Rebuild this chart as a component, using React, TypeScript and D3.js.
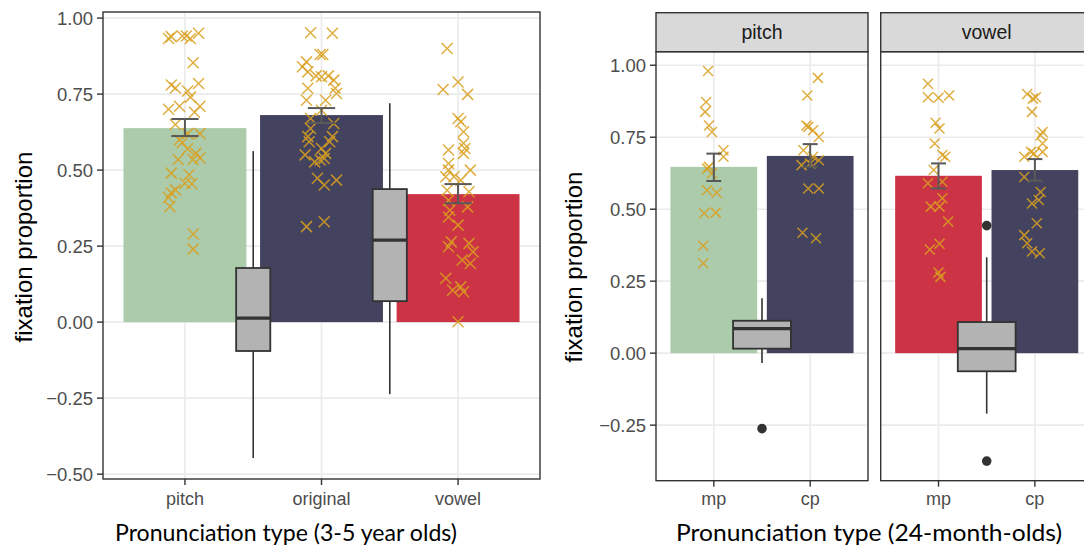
import React from "react";
import * as d3 from "d3";

// ---- left chart: 3-5 year olds ----
const leftCats = ["pitch", "original", "vowel"];
const leftMeans = [0.638, 0.681, 0.421];
const leftLower = [0.612, 0.655, 0.391];
const leftUpper = [0.668, 0.704, 0.454];
const leftTicks = [-0.5, -0.25, 0, 0.25, 0.5, 0.75, 1];

const leftPitchPts = [0.933, 0.939, 0.941, 0.941, 0.933, 0.95, 0.853, 0.78, 0.77, 0.785, 0.76, 0.74, 0.7, 0.71, 0.71, 0.69, 0.65, 0.62, 0.62, 0.6, 0.59, 0.57, 0.555, 0.54, 0.535, 0.535, 0.49, 0.485, 0.455, 0.457, 0.435, 0.425, 0.41, 0.38, 0.29, 0.24];
const leftPitchJit = [-0.12, -0.1, -0.02, 0.01, 0.04, 0.1, 0.06, -0.1, -0.07, 0.1, 0.02, 0.04, -0.12, -0.04, 0.11, 0.07, -0.07, 0.11, 0.02, -0.04, -0.02, 0.02, 0.08, 0.11, -0.05, 0.06, -0.1, 0.03, 0.05, 0.0, -0.07, -0.1, -0.12, -0.11, 0.06, 0.06];
const leftOrigPts = [0.952, 0.95, 0.88, 0.88, 0.856, 0.84, 0.823, 0.81, 0.807, 0.81, 0.796, 0.769, 0.752, 0.769, 0.73, 0.73, 0.697, 0.67, 0.653, 0.637, 0.61, 0.593, 0.61, 0.593, 0.571, 0.555, 0.55, 0.527, 0.533, 0.538, 0.473, 0.451, 0.467, 0.314, 0.33];
const leftOrigJit = [-0.08, 0.08, -0.01, 0.01, -0.11, -0.14, -0.1, -0.04, 0.0, 0.05, 0.09, 0.1, 0.11, -0.1, -0.11, 0.03, 0.0, -0.08, 0.09, -0.08, -0.1, -0.09, 0.08, 0.06, 0.0, 0.03, -0.12, -0.05, -0.01, 0.02, -0.03, 0.02, 0.11, -0.11, 0.02];
const leftVowelPts = [0.9, 0.79, 0.765, 0.749, 0.67, 0.659, 0.626, 0.588, 0.571, 0.555, 0.566, 0.5, 0.522, 0.5, 0.478, 0.478, 0.467, 0.429, 0.434, 0.401, 0.368, 0.379, 0.346, 0.319, 0.264, 0.259, 0.248, 0.231, 0.204, 0.193, 0.144, 0.105, 0.116, 0.1, 0.001];
const leftVowelJit = [-0.08, 0.0, -0.11, 0.07, 0.0, 0.02, 0.04, 0.04, 0.05, 0.04, -0.07, 0.09, -0.07, -0.07, -0.09, -0.03, 0.02, 0.08, -0.08, -0.07, -0.06, 0.07, -0.07, 0.0, -0.05, 0.08, -0.07, 0.11, 0.03, 0.09, -0.09, -0.04, 0.02, 0.04, 0.0];

// boxplots sit between neighbouring categories
const leftBoxLow = [-0.447, -0.237];
const leftBoxQ1 = [-0.095, 0.069];
const leftBoxMed = [0.013, 0.27];
const leftBoxQ3 = [0.178, 0.4375];
const leftBoxHigh = [0.5625, 0.72];

// ---- right chart: 24-month-olds, faceted ----
const facets = ["pitch", "vowel"];
const rightCats = ["mp", "cp"];
const pitchMeans = [0.647, 0.685];
const pitchLower = [0.598, 0.647];
const pitchUpper = [0.693, 0.726];
const vowelMeans = [0.616, 0.636];
const vowelLower = [0.572, 0.599];
const vowelUpper = [0.659, 0.674];
const rightTicks = [-0.25, 0, 0.25, 0.5, 0.75, 1];

const pitchMpPts = [0.98, 0.872, 0.838, 0.791, 0.768, 0.705, 0.682, 0.647, 0.641, 0.624, 0.566, 0.557, 0.486, 0.488, 0.373, 0.312];
const pitchMpJit = [-0.06, -0.08, -0.09, -0.05, -0.02, 0.1, 0.1, -0.05, -0.07, -0.02, -0.07, 0.03, -0.1, 0.02, -0.11, -0.11];
const pitchCpPts = [0.956, 0.895, 0.791, 0.786, 0.774, 0.751, 0.705, 0.682, 0.67, 0.653, 0.659, 0.572, 0.572, 0.418, 0.399];
const pitchCpJit = [0.08, -0.03, -0.04, -0.02, 0.03, 0.09, -0.07, 0.03, 0.09, -0.09, 0.0, -0.02, 0.09, -0.08, 0.06];
const vowelMpPts = [0.936, 0.889, 0.887, 0.895, 0.8, 0.78, 0.728, 0.688, 0.682, 0.636, 0.59, 0.595, 0.538, 0.509, 0.509, 0.457, 0.38, 0.36, 0.28, 0.265];
const vowelMpJit = [-0.11, -0.11, 0.0, 0.11, -0.03, 0.01, -0.04, 0.04, 0.07, -0.05, -0.11, 0.04, 0.04, -0.08, 0.01, 0.1, 0.01, -0.09, 0.0, 0.02];
const vowelCpPts = [0.9, 0.889, 0.884, 0.838, 0.768, 0.757, 0.728, 0.699, 0.682, 0.699, 0.693, 0.612, 0.56, 0.532, 0.52, 0.451, 0.41, 0.382, 0.353, 0.347];
const vowelCpJit = [-0.08, 0.01, -0.02, -0.03, 0.08, 0.06, 0.08, 0.08, -0.11, -0.04, -0.01, -0.11, 0.06, 0.04, -0.03, 0.02, -0.11, -0.08, -0.03, 0.05];

const pitchBox = { low: -0.034, q1: 0.0156, med: 0.085, q3: 0.1126, high: 0.191, out: [-0.262] };
const vowelBox = { low: -0.21, q1: -0.063, med: 0.0156, q3: 0.108, high: 0.333, out: [0.443, -0.375] };

const GREEN = "#abcbaa", NAVY = "#44435f", RED = "#cc3344";
const PT = "#d9a020", GRID = "#ebebeb", DARK = "#333333";
const SANS = "'Liberation Sans', Arial, sans-serif";
const TITLE = "Lato, 'Open Sans', sans-serif";
const fmt = d3.format(".2f");

function xMark(cx: number, cy: number, s: number) {
  return `M${cx - s},${cy - s}L${cx + s},${cy + s}M${cx - s},${cy + s}L${cx + s},${cy - s}`;
}

type Box = { at: number; low: number; q1: number; med: number; q3: number; high: number; out: number[] };

function Panel(props: {
  x0: number; x1: number; y0: number; y1: number;
  domain: [number, number]; cats: string[]; means: number[]; lower: number[]; upper: number[];
  colors: string[]; pts: number[][]; jit: number[][]; boxes: Box[];
  boxW: number; errW: number; mark: number; yTicks: number[]; showY: boolean; strip?: string;
}) {
  const { x0, x1, y0, y1, cats } = props;
  const x = d3.scalePoint<string>().domain(cats).range([x0, x1]).padding(0.6);
  const step = x.step();
  const y = d3.scaleLinear().domain(props.domain).range([y1, y0]);
  const barW = step * 0.9;
  return (
    <g>
      <rect x={x0} y={y0} width={x1 - x0} height={y1 - y0} fill="#fff" />
      {props.yTicks.map((t) => (
        <line key={"gy" + t} x1={x0} x2={x1} y1={y(t)} y2={y(t)} stroke={GRID} strokeWidth={1.6} />
      ))}
      {cats.map((c) => (
        <line key={"gx" + c} x1={x(c)!} x2={x(c)!} y1={y0} y2={y1} stroke={GRID} strokeWidth={1.6} />
      ))}
      {cats.map((c, i) => (
        <rect key={"b" + c} x={x(c)! - barW / 2} y={y(props.means[i])} width={barW}
          height={y(0) - y(props.means[i])} fill={props.colors[i]} />
      ))}
      {props.boxes.map((b, i) => {
        const cx = x0 + (0.6 + b.at) * step;
        const bw = props.boxW * step;
        return (
          <g key={"box" + i}>
            <line x1={cx} x2={cx} y1={y(b.high)} y2={y(b.q3)} stroke={DARK} strokeWidth={1.6} />
            <line x1={cx} x2={cx} y1={y(b.q1)} y2={y(b.low)} stroke={DARK} strokeWidth={1.6} />
            <rect x={cx - bw / 2} y={y(b.q3)} width={bw} height={y(b.q1) - y(b.q3)}
              fill="#b3b3b3" stroke={DARK} strokeWidth={1.8} />
            <line x1={cx - bw / 2} x2={cx + bw / 2} y1={y(b.med)} y2={y(b.med)} stroke={DARK} strokeWidth={3.2} />
            {b.out.map((o, k) => (
              <circle key={k} cx={cx} cy={y(o)} r={4.8} fill={DARK} />
            ))}
          </g>
        );
      })}
      {cats.map((c, i) => (
        <g key={"p" + c}>
          {props.pts[i].map((v, k) => (
            <path key={k} d={xMark(x(c)! + props.jit[i][k] * step, y(v), props.mark)}
              stroke={PT} strokeWidth={1.5} strokeOpacity={0.85} fill="none" />
          ))}
        </g>
      ))}
      {cats.map((c, i) => {
        const cx = x(c)!, hw = (props.errW * step) / 2;
        return (
          <g key={"e" + c} stroke="#595959" strokeWidth={2}>
            <line x1={cx} x2={cx} y1={y(props.upper[i])} y2={y(props.lower[i])} />
            <line x1={cx - hw} x2={cx + hw} y1={y(props.upper[i])} y2={y(props.upper[i])} />
            <line x1={cx - hw} x2={cx + hw} y1={y(props.lower[i])} y2={y(props.lower[i])} />
          </g>
        );
      })}
      <rect x={x0} y={y0} width={x1 - x0} height={y1 - y0} fill="none" stroke={DARK} strokeWidth={1.4} />
      {props.strip && (
        <g>
          <rect x={x0} y={y0 - 39} width={x1 - x0} height={39} fill="#d9d9d9" stroke={DARK} strokeWidth={1.4} />
          <text x={(x0 + x1) / 2} y={y0 - 19.5} dy="0.35em" textAnchor="middle" fontFamily={SANS}
            fontSize={19.5} fill="#1a1a1a">{props.strip}</text>
        </g>
      )}
      {cats.map((c) => (
        <g key={"xt" + c}>
          <line x1={x(c)!} x2={x(c)!} y1={y1} y2={y1 + 6} stroke={DARK} strokeWidth={1.4} />
          <text x={x(c)!} y={505} textAnchor="middle" fontFamily={SANS} fontSize={18} fill="#4d4d4d">{c}</text>
        </g>
      ))}
      {props.showY && props.yTicks.map((t) => (
        <g key={"yt" + t}>
          <line x1={x0 - 6} x2={x0} y1={y(t)} y2={y(t)} stroke={DARK} strokeWidth={1.4} />
          <text x={x0 - 10} y={y(t)} dy="0.36em" textAnchor="end" fontFamily={SANS} fontSize={18.5}
            fill="#4d4d4d">{fmt(t)}</text>
        </g>
      ))}
    </g>
  );
}

export default function App() {
  const leftBoxes: Box[] = leftBoxLow.map((_, i) => ({
    at: i + 0.5, low: leftBoxLow[i], q1: leftBoxQ1[i], med: leftBoxMed[i], q3: leftBoxQ3[i], high: leftBoxHigh[i], out: [],
  }));
  return (
    <div style={{ position: "absolute", left: 0, top: 0 }}>
      <svg width={1084} height={550} style={{ display: "block", background: "#fff" }}>
        <Panel x0={103} x1={540} y0={12} y1={479} domain={[-0.516, 1.02]} cats={leftCats}
          means={leftMeans} lower={leftLower} upper={leftUpper} colors={[GREEN, NAVY, RED]}
          pts={[leftPitchPts, leftOrigPts, leftVowelPts]} jit={[leftPitchJit, leftOrigJit, leftVowelJit]}
          boxes={leftBoxes} boxW={0.25} errW={0.2} mark={5.5} yTicks={leftTicks} showY={true} />
        <Panel x0={656} x1={868} y0={51.7} y1={480.7} domain={[-0.443, 1.047]} cats={rightCats}
          means={pitchMeans} lower={pitchLower} upper={pitchUpper} colors={[GREEN, NAVY]}
          pts={[pitchMpPts, pitchCpPts]} jit={[pitchMpJit, pitchCpJit]}
          boxes={[{ at: 0.5, ...pitchBox }]} boxW={0.6} errW={0.155} mark={5} yTicks={rightTicks}
          showY={true} strip={facets[0]} />
        <Panel x0={880.7} x1={1092.7} y0={51.7} y1={480.7} domain={[-0.443, 1.047]} cats={rightCats}
          means={vowelMeans} lower={vowelLower} upper={vowelUpper} colors={[RED, NAVY]}
          pts={[vowelMpPts, vowelCpPts]} jit={[vowelMpJit, vowelCpJit]}
          boxes={[{ at: 0.5, ...vowelBox }]} boxW={0.6} errW={0.155} mark={5} yTicks={rightTicks}
          showY={false} strip={facets[1]} />
        <text transform="translate(32,247) rotate(-90)" textAnchor="middle" fontFamily={SANS} fontSize={24}
          fill="#000">fixation proportion</text>
        <text transform="translate(582,267) rotate(-90)" textAnchor="middle" fontFamily={SANS} fontSize={24}
          fill="#000">fixation proportion</text>
        <text x={286} y={541} textAnchor="middle" fontFamily={TITLE} fontSize={23.5} fill="#000"
          textLength={342} lengthAdjust="spacingAndGlyphs">
          Pronunciation type (3-5 year olds)
        </text>
        <text x={869} y={541} textAnchor="middle" fontFamily={TITLE} fontSize={24} fill="#000"
          textLength={386} lengthAdjust="spacingAndGlyphs">
          Pronunciation type (24-month-olds)
        </text>
      </svg>
    </div>
  );
}
